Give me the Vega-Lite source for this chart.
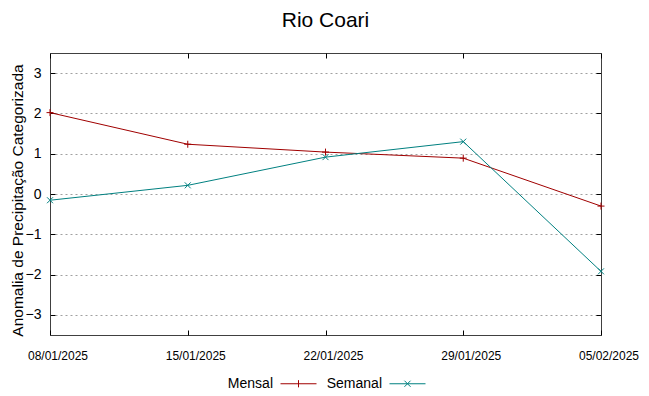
{
  "$schema": "https://vega.github.io/schema/vega-lite/v6.json",
  "width": 551,
  "height": 282,
  "autosize": {"type": "none"},
  "padding": {"left": 50, "top": 53, "right": 48, "bottom": 61},
  "background": "white",
  "config": {
    "font": "Liberation Sans",
    "view": {"stroke": "#404040", "strokeWidth": 1}
  },
  "title": {"text": "Rio Coari", "fontSize": 21, "fontWeight": "normal", "color": "#000", "anchor": "middle", "offset": 22},
  "data": {
    "values": [
      {"data": "08/01/2025", "serie": "Mensal", "valor": 2.02},
      {"data": "15/01/2025", "serie": "Mensal", "valor": 1.235},
      {"data": "22/01/2025", "serie": "Mensal", "valor": 1.04},
      {"data": "29/01/2025", "serie": "Mensal", "valor": 0.89},
      {"data": "05/02/2025", "serie": "Mensal", "valor": -0.3},
      {"data": "08/01/2025", "serie": "Semanal", "valor": -0.155},
      {"data": "15/01/2025", "serie": "Semanal", "valor": 0.215},
      {"data": "22/01/2025", "serie": "Semanal", "valor": 0.915},
      {"data": "29/01/2025", "serie": "Semanal", "valor": 1.3},
      {"data": "05/02/2025", "serie": "Semanal", "valor": -1.92}
    ]
  },
  "encoding": {
    "color": {
      "field": "serie",
      "type": "nominal",
      "scale": {"domain": ["Mensal", "Semanal"], "range": ["#a00000", "#008080"]},
      "legend": {
        "orient": "none",
        "legendX": 230,
        "legendY": 312,
        "direction": "horizontal",
        "title": null,
        "padding": 0,
        "symbolSize": 1296,
        "symbolStrokeWidth": 1,
        "symbolType": "M-1,0H1",
        "labelFont": "Liberation Sans",
        "labelFontSize": 14,
        "labelColor": "#000",
        "labelAlign": "right",
        "labelOffset": -44,
        "columnPadding": 7,
        "encode": {
          "symbols": {
            "update": {
              "shape": {"signal": "datum.label === 'Mensal' ? 'M-1,0H1M0,-0.2V0.2' : 'M-1,0H1M-0.17,-0.17L0.17,0.17M-0.17,0.17L0.17,-0.17'"},
              "fill": {"value": "transparent"},
              "strokeWidth": {"value": 1}
            }
          }
        }
      }
    }
  },
  "layer": [
    {
      "mark": {"type": "line", "strokeWidth": 1},
      "encoding": {
        "x": {
          "field": "data", "type": "ordinal", "sort": null,
          "scale": {"type": "point", "padding": 0},
          "axis": {"orient": "bottom", "title": null, "domain": false, "grid": false, "labelAngle": 0,
            "tickSize": -5, "tickColor": "#000", "labelPadding": 20, "labelOffset": 7.5, "labelFontSize": 12, "labelColor": "#000", "labelFont": "Liberation Sans"}
        },
        "y": {
          "field": "valor", "type": "quantitative",
          "scale": {"domain": [-3.5, 3.5], "nice": false, "zero": false},
          "axis": {"orient": "left", "title": "Anomalia de Precipitação Categorizada", "values": [-3, -2, -1, 0, 1, 2, 3],
            "domain": false, "grid": true, "gridColor": "#a0a0a0", "gridDash": [2, 3], "gridWidth": 1,
            "tickSize": -5, "tickColor": "#000", "labelPadding": 14, "labelFontSize": 14, "labelColor": "#000", "labelFont": "Liberation Sans",
            "titleFontSize": 15.5, "titleFontWeight": "normal", "titleColor": "#000", "titleFont": "Liberation Sans", "titlePadding": 0, "titleY": 147}
        }
      }
    },
    {
      "transform": [{"filter": "datum.serie === 'Mensal'"}],
      "mark": {"type": "point", "filled": false, "strokeWidth": 1, "size": 49, "opacity": 1, "shape": "M-1,0H1M0,-1V1"},
      "encoding": {
        "x": {
          "field": "data", "type": "ordinal", "sort": null,
          "scale": {"type": "point", "padding": 0},
          "axis": {"orient": "top", "title": null, "domain": false, "grid": false, "labels": false, "tickSize": -5, "tickColor": "#000"}
        },
        "y": {
          "field": "valor", "type": "quantitative",
          "scale": {"domain": [-3.5, 3.5], "nice": false, "zero": false},
          "axis": {"orient": "right", "title": null, "values": [-3, -2, -1, 0, 1, 2, 3], "domain": false, "grid": false, "labels": false, "tickSize": -5, "tickColor": "#000"}
        }
      }
    },
    {
      "transform": [{"filter": "datum.serie === 'Semanal'"}],
      "mark": {"type": "point", "filled": false, "strokeWidth": 1, "size": 49, "opacity": 1, "shape": "M-0.85,-0.85L0.85,0.85M-0.85,0.85L0.85,-0.85"},
      "encoding": {
        "x": {
          "field": "data", "type": "ordinal", "sort": null,
          "scale": {"type": "point", "padding": 0},
          "axis": null
        },
        "y": {
          "field": "valor", "type": "quantitative",
          "scale": {"domain": [-3.5, 3.5], "nice": false, "zero": false},
          "axis": null
        }
      }
    }
  ],
  "resolve": {"axis": {"x": "independent", "y": "independent"}}
}
